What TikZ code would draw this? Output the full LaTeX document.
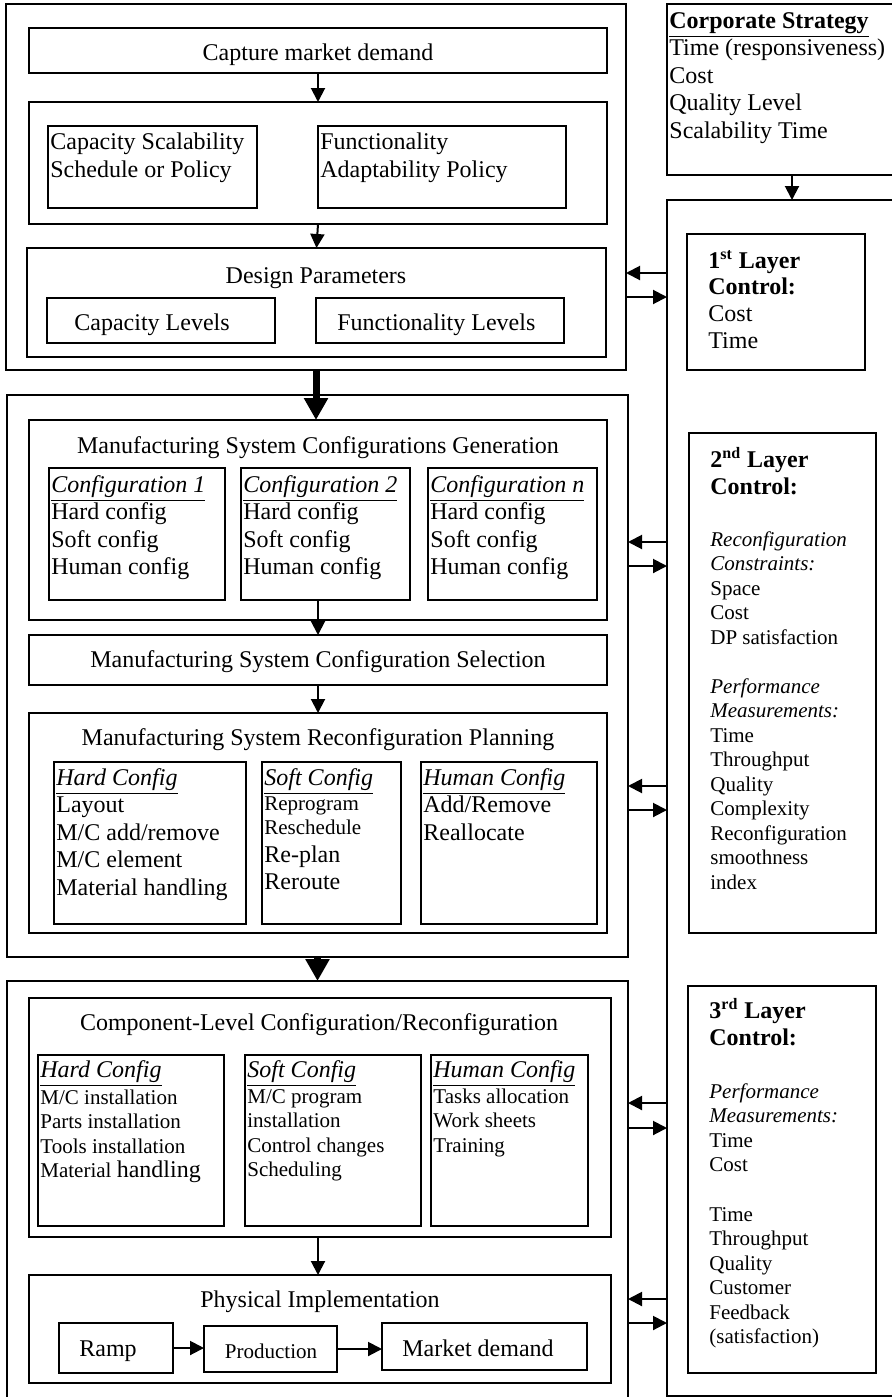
\documentclass[tikz,border=0pt]{standalone}
\usepackage{fontspec}
\setmainfont{Liberation Serif}
\usetikzlibrary{arrows.meta,fit}

\newcommand{\nsz}{\fontsize{12}{13.75}\selectfont}
\newcommand{\ssz}{\fontsize{10.5}{12.25}\selectfont}
\newcommand{\cfghead}[1]{\underline{\textit{#1}}}

% multi-line text nodes sit on the baseline of their last line
\tikzset{
  box/.style={draw, line width=1pt, inner sep=0pt, outer sep=0pt},
  txt/.style={inner sep=0pt, anchor=base west, align=left, font=\nsz},
  small/.style={txt, font=\ssz},
  ttl/.style={inner sep=0pt, anchor=base, font=\nsz},
  arr/.style={line width=1pt, -{Triangle[length=7pt,width=7pt]}},
  bigarr/.style={line width=3.5pt, -{Triangle[length=11pt,width=11.5pt]}},
}

\begin{document}
\begin{tikzpicture}[x=0.5pt,y=-0.5pt]
\useasboundingbox (0,0) rectangle (892,1397);
\clip (0,0) rectangle (892,1397);

% market demand -> design parameters
\node[box, fit={(6,4) (626,370)}] (strat) {};
\node[box, fit={(29,28) (607,73)}] (demand) {};
\node[ttl] (demand-t) at (318,60) {Capture market demand};
\node[box, fit={(29,102) (607,224)}] (policy) {};
\node[box, fit={(48,126) (257,208)}] (capsched) {};
\node[txt] (capsched-t) at (50,177) {Capacity Scalability\\Schedule or Policy};
\node[box, fit={(318,126) (566,208)}] (funcadapt) {};
\node[txt] (funcadapt-t) at (320,177) {Functionality\\Adaptability Policy};
\node[box, fit={(27,248) (606,357)}] (dp) {};
\node[ttl] (dp-t) at (316,283) {Design Parameters};
\node[box, fit={(47,298) (275,343)}] (caplev) {};
\node[txt] (caplev-t) at (74,330) {Capacity Levels};
\node[box, fit={(316,298) (564,343)}] (funclev) {};
\node[txt] (funclev-t) at (337,330) {Functionality Levels};

\draw[arr] (demand.south) -- (policy.north);
\draw[arr] (policy.south) -- (dp.north);

% system level
\node[box, fit={(7,395) (628,957)}] (sysblk) {};
\node[box, fit={(29,420) (607,620)}] (gen) {};
\node[ttl] (gen-t) at (318,453) {Manufacturing System Configurations Generation};
\node[box, fit={(49,468) (225,600)}] (cfgA) {};
\node[txt] (cfgA-t) at (51,574.5) {\cfghead{Configuration 1}\\Hard config\\Soft config\\Human config};
\node[box, fit={(241,468) (410,600)}] (cfgB) {};
\node[txt] (cfgB-t) at (243,574.5) {\cfghead{Configuration 2}\\Hard config\\Soft config\\Human config};
\node[box, fit={(428,468) (597,600)}] (cfgN) {};
\node[txt] (cfgN-t) at (430,574.5) {\cfghead{Configuration n}\\Hard config\\Soft config\\Human config};
\node[box, fit={(29,635) (607,685)}] (sel) {};
\node[ttl] (sel-t) at (318,667) {Manufacturing System Configuration Selection};
\node[box, fit={(29,713) (607,933)}] (rcp) {};
\node[ttl] (rcp-t) at (318,745) {Manufacturing System Reconfiguration Planning};
\node[box, fit={(54,762) (246,924)}] (rhard) {};
\node[txt] (rhard-t) at (56,895) {\cfghead{Hard Config}\\Layout\\M/C add/remove\\M/C element\\Material handling};
\node[box, fit={(262,762) (401,924)}] (rsoft) {};
\node[txt] (rsoft-t) at (264,785) {\cfghead{Soft Config}};
\node[small] (rsoft-a) at (264,834.5) {Reprogram\\Reschedule};
\node[txt] (rsoft-b) at (264,889.5) {Re-plan\\Reroute};
\node[box, fit={(421,762) (597,924)}] (rhuman) {};
\node[txt] (rhuman-t) at (423,840) {\cfghead{Human Config}\\Add/Remove\\Reallocate};

\draw[bigarr] (strat.south) -- (strat.south |- gen.north);
\draw[arr] (sel.north |- cfgB.south) -- (sel.north);
\draw[arr] (sel.south) -- (rcp.north);

% component level
\node[box, fit={(7,981) (628,1420)}] (compblk) {};
\node[box, fit={(29,998) (611,1237)}] (comp) {};
\node[ttl] (comp-t) at (319,1030) {Component-Level Configuration/Reconfiguration};
\node[box, fit={(38,1055) (224,1226)}] (chard) {};
\node[txt] (chard-t) at (40,1077) {\cfghead{Hard Config}};
\node[small] (chard-l) at (40,1177.5) {M/C installation\\Parts installation\\Tools installation\\Material {\fontsize{12}{12.25}\selectfont handling}};
\node[box, fit={(245,1055) (421,1226)}] (csoft) {};
\node[txt] (csoft-t) at (247,1077) {\cfghead{Soft Config}};
\node[small] (csoft-l) at (247,1176.5) {M/C program\\installation\\Control changes\\Scheduling};
\node[box, fit={(431,1055) (588,1226)}] (chuman) {};
\node[txt] (chuman-t) at (433,1077) {\cfghead{Human Config}};
\node[small] (chuman-l) at (433,1152) {Tasks allocation\\Work sheets\\Training};
\node[box, fit={(29,1275) (611,1383)}] (phys) {};
\node[ttl] (phys-t) at (320,1307) {Physical Implementation};
\node[box, fit={(59,1323) (173,1373)}] (ramp) {};
\node[ttl] (ramp-t) at (108,1356) {Ramp};
\node[box, fit={(204,1326) (337,1372)}] (prod) {};
\node[ttl, font=\ssz] (prod-t) at (271,1358) {Production};
\node[box, fit={(382,1323) (587,1370)}] (mkt) {};
\node[ttl] (mkt-t) at (478,1356) {Market demand};

\draw[bigarr] (sysblk.south) -- (sysblk.south |- compblk.north);
\draw[arr] (sel.north |- comp.south) -- (sel.north |- phys.north);
\draw[arr] (ramp.east) -- (prod.west |- ramp.east);
\draw[arr] (prod.east) -- (mkt.west |- prod.east);

% corporate strategy and control layers
\node[box, fit={(667,4) (917,175)}] (corp) {};
\node[txt] (corp-t) at (669,138) {\textbf{\underline{Corporate Strategy}}\\Time (responsiveness)\\Cost\\Quality Level\\Scalability Time};
\node[box, fit={(667,200) (917,1396)}] (ctl) {};
\draw[arr] (corp.south) -- (ctl.north);

\node[box, fit={(687,234) (865,370)}] (lay1) {};
\node[txt, font=\fontsize{12}{13.4}\selectfont] (lay1-t) at (708,348.4) {\textbf{1\textsuperscript{st} Layer}\\\textbf{Control:}\\Cost\\Time};

\node[box, fit={(689,433) (876,933)}] (lay2) {};
\node[txt, font=\fontsize{12}{13.5}\selectfont\bfseries] (lay2-h) at (710,494) {2\textsuperscript{nd} Layer\\Control:};
\node[small] (lay2-c) at (710,644) {\textit{Reconfiguration}\\\textit{Constraints:}\\Space\\Cost\\DP satisfaction};
\node[small] (lay2-m) at (710,889) {\textit{Performance}\\\textit{Measurements:}\\Time\\Throughput\\Quality\\Complexity\\Reconfiguration\\smoothness\\index};

\node[box, fit={(688,986) (876,1373)}] (lay3) {};
\node[txt, font=\fontsize{12}{13.5}\selectfont\bfseries] (lay3-h) at (709,1045) {3\textsuperscript{rd} Layer\\Control:};
\node[small] (lay3-m) at (709,1171.5) {\textit{Performance}\\\textit{Measurements:}\\Time\\Cost};
\node[small] (lay3-k) at (709,1343.5) {Time\\Throughput\\Quality\\Customer\\Feedback\\(satisfaction)};

% feedback between the control layers and the levels
\foreach \ya/\yb/\blk in {273/297/strat, 542/566/sysblk, 786/810/sysblk, 1103/1128/compblk, 1299/1323/compblk}{
  \draw[arr] (ctl.west |- 0,\ya) -- (\blk.east |- 0,\ya);
  \draw[arr] (\blk.east |- 0,\yb) -- (ctl.west |- 0,\yb);
}
\end{tikzpicture}
\end{document}
